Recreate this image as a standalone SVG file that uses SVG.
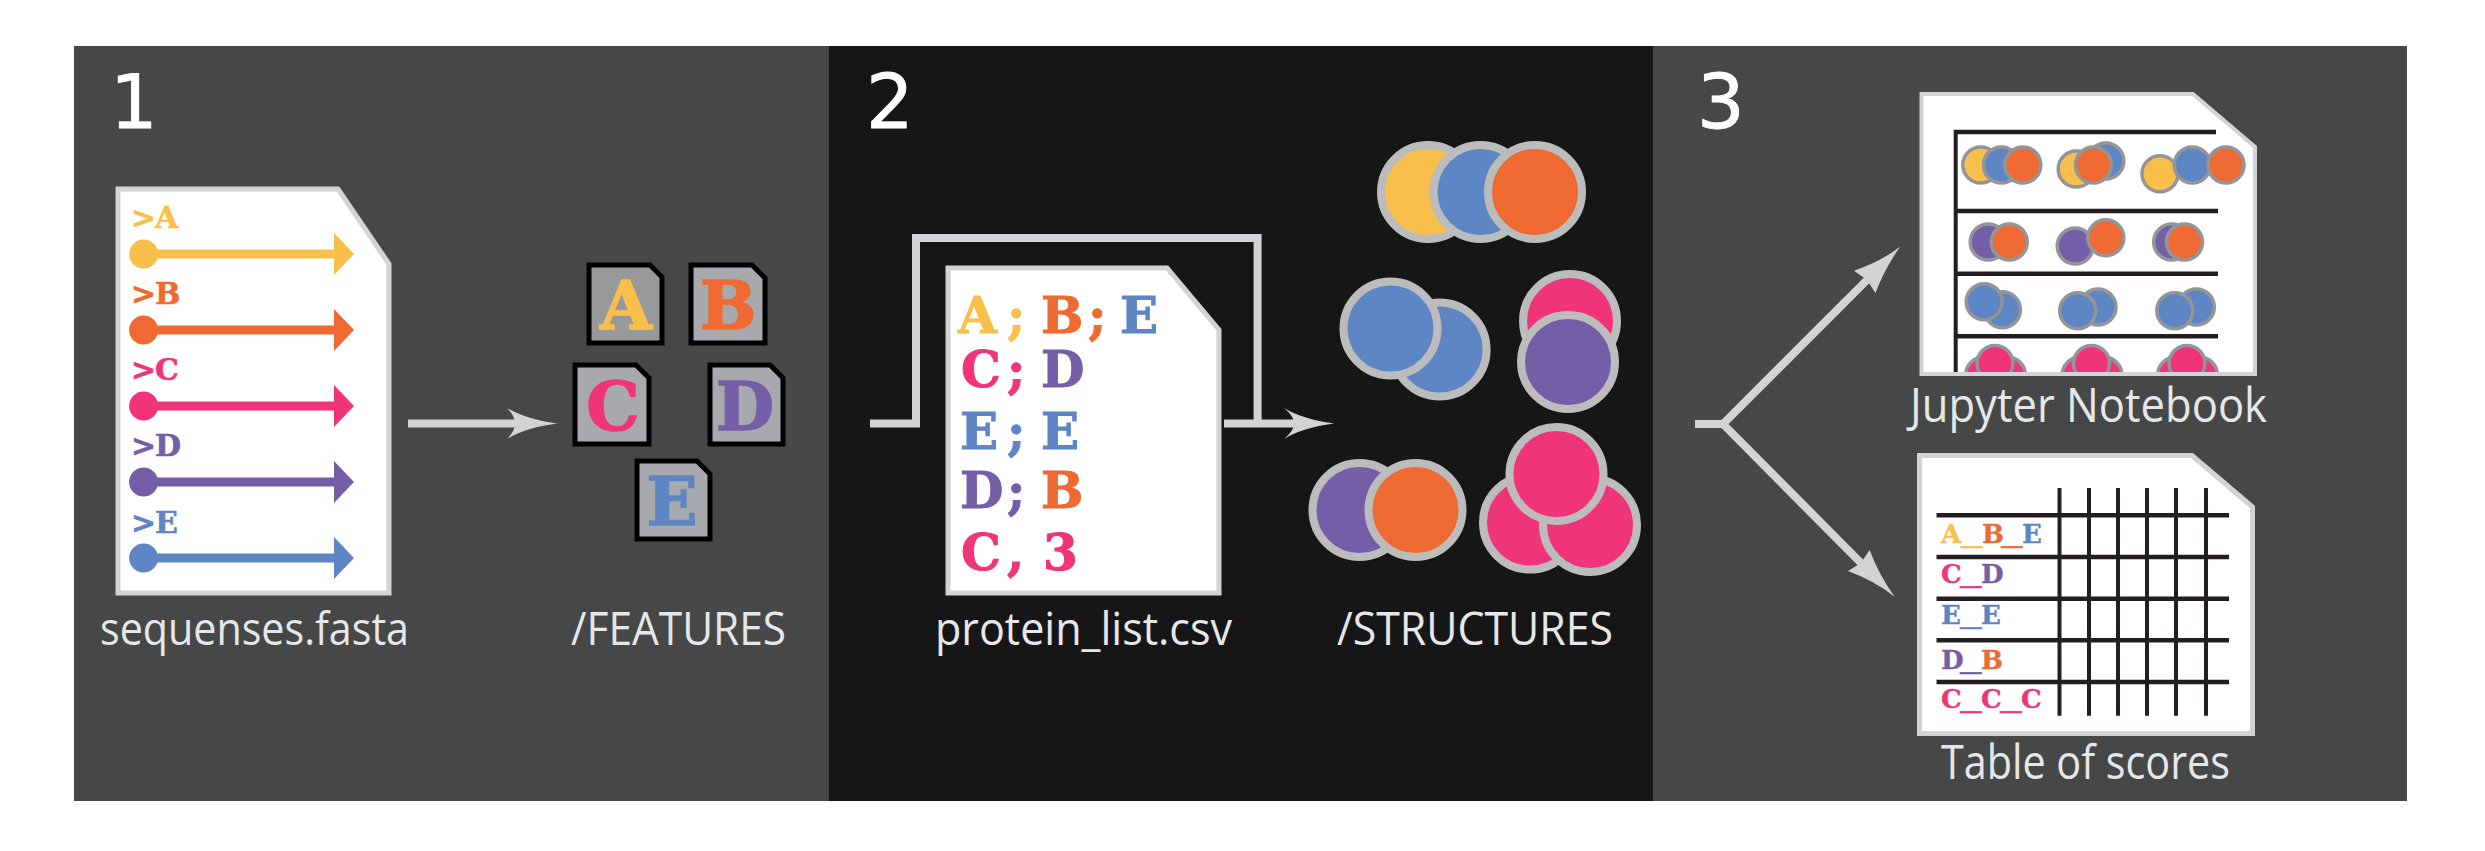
<svg xmlns="http://www.w3.org/2000/svg" width="2485" height="851" viewBox="0 0 2485 851">
<style>
.doc{fill:#fff;stroke:#d1d3d4;stroke-width:5}
.feat{fill:#a7a9ac;stroke:#000;stroke-width:5}
.lab{font-family:"Open Sans","Noto Sans",sans-serif;font-size:45px;fill:#e6e7e8}
.tall{font-size:48px}
.num{font-family:"DejaVu Sans",sans-serif;font-size:75px;fill:#fff;stroke:#fff;stroke-width:.8}
.mono{font-family:"DejaVu Serif",serif;font-weight:700}
.fa{font-size:30px;stroke-width:.6px}.fb{font-size:67px;text-anchor:middle;stroke-width:1.5px}.fc{font-size:50px;stroke-width:1px}.fd{font-size:26px;stroke-width:.4px}
.u{font-family:"Liberation Mono",monospace;font-size:36px;font-weight:400}
.y{fill:#f8c04a;stroke:#f8c04a}.o{fill:#ee6a32;stroke:#ee6a32}.p{fill:#ef3578;stroke:#ef3578}.v{fill:#745ea8;stroke:#745ea8}.b{fill:#5e85c4;stroke:#5e85c4}
.plain{stroke:none}
.big{stroke:#bcbcbc;stroke-width:8}
.sm{stroke:#939598;stroke-width:3.5}
.conn{fill:none;stroke:#d1d3d4;stroke-width:8}
.head{fill:#d1d3d4}
.rule{stroke:#231f20;fill:none}
</style>
<defs>
<clipPath id="nbclip"><rect x="1919" y="92" width="338" height="282"/></clipPath>
<g id="tri">
<circle class="p sm" cx="1983.700" cy="375" r="18"/><circle class="p sm" cx="2007.400" cy="375" r="18"/><circle class="p sm" cx="1995" cy="363.500" r="18"/>
</g>
</defs>
<rect width="2485" height="851" fill="#fff"/>
<g id="panel-1">
<rect x="74" y="46" width="755" height="755" fill="#464847"/>
<text class="num" x="110" y="128">1</text>
</g>
<g id="panel-2">
<rect x="829" y="46" width="824" height="755" fill="#161616"/>
<text class="num" x="866" y="128">2</text>
</g>
<g id="panel-3">
<rect x="1653" y="46" width="754" height="755" fill="#464847"/>
<text class="num" x="1697" y="128">3</text>
</g>
<g id="connectors">
<path class="conn" d="M408 423.600H520"/>
<path class="head" d="M557 423.600Q525 428 507 439Q515 431 515 423.600Q515 416 507 408Q525 419 557 423.600Z"/>
<path class="conn" d="M870 423.600H916V238H1257.600V423.600"/>
<path class="conn" d="M1224 423.600H1300"/>
<path class="head" d="M1334 423.600Q1302 428 1284 439Q1294 431 1294 423.600Q1294 416 1284 408Q1302 419 1334 423.600Z"/>
<path class="conn" d="M1695 424H1723L1867 280M1723 424L1861 563"/>
<path class="head" d="M1900 246.700Q1884 270 1875.500 293L1867 280L1854 270.700Q1880 262 1900 246.700Z"/>
<path class="head" d="M1894.600 596.700Q1879 575 1869.600 550L1861 563L1848 571Q1875 581 1894.600 596.700Z"/>
</g>
<g id="sequences-file">
<path class="doc" d="M118 189H338L389 264V593H118Z"/>
<text class="mono fa y" x="131 155" y="228">&gt;A</text>
<text class="mono fa o" x="131 155" y="304">&gt;B</text>
<text class="mono fa p" x="131 155" y="380">&gt;C</text>
<text class="mono fa v" x="131 155" y="456">&gt;D</text>
<text class="mono fa b" x="131 155" y="532.500">&gt;E</text>
<g class="y plain" style="stroke:none"><circle cx="143.600" cy="254" r="14.500"/><rect x="150" y="249.500" width="185" height="9"/><path d="M334 233L354 254L334 275Z"/></g>
<g class="o" style="stroke:none"><circle cx="143.600" cy="330" r="14.500"/><rect x="150" y="325.500" width="185" height="9"/><path d="M334 309L354 330L334 351Z"/></g>
<g class="p" style="stroke:none"><circle cx="143.600" cy="406" r="14.500"/><rect x="150" y="401.500" width="185" height="9"/><path d="M334 385L354 406L334 427Z"/></g>
<g class="v" style="stroke:none"><circle cx="143.600" cy="482" r="14.500"/><rect x="150" y="477.500" width="185" height="9"/><path d="M334 461L354 482L334 503Z"/></g>
<g class="b" style="stroke:none"><circle cx="143.600" cy="558" r="14.500"/><rect x="150" y="553.500" width="185" height="9"/><path d="M334 537L354 558L334 579Z"/></g>
<text class="lab" x="100" y="644.500" textLength="309" lengthAdjust="spacingAndGlyphs">sequenses.fasta</text>
</g>
<g id="features">
<path class="feat" d="M589 265H650L662 277V343H589Z" style="fill:#98999b"/>
<text class="mono fb y" x="626" y="328.500">A</text>
<path class="feat" d="M691 265H752L765 278V343H691Z"/>
<text class="mono fb o" x="728" y="328.500">B</text>
<path class="feat" d="M575 365H636L649 378V444H575Z"/>
<text class="mono fb p" x="613" y="429.500">C</text>
<path class="feat" d="M710 365H770L783 378V444H710Z"/>
<text class="mono fb v" x="745" y="429.500">D</text>
<path class="feat" d="M637 461H697L710 474V539H637Z"/>
<text class="mono fb b" x="672" y="525">E</text>
<text class="lab" x="571" y="644.500" textLength="215" lengthAdjust="spacingAndGlyphs">/FEATURES</text>
</g>
<g id="protein-list">
<path class="doc" d="M948 268H1167L1219 330V593H948Z"/>
<text class="mono fc" x="958 1007 1041 1088 1120" y="332.500"><tspan class="y">A;</tspan><tspan class="o">B;</tspan><tspan class="b">E</tspan></text>
<text class="mono fc" x="961 1007 1041" y="387"><tspan class="p">C;</tspan><tspan class="v">D</tspan></text>
<text class="mono fc b" x="960 1007 1041" y="449">E;E</text>
<text class="mono fc" x="960 1007 1041" y="508"><tspan class="v">D;</tspan><tspan class="o">B</tspan></text>
<text class="mono fc p" x="961 1007 1043" y="570">C,3</text>
<text class="lab" x="935" y="644.500" textLength="297" lengthAdjust="spacingAndGlyphs">protein_list.csv</text>
</g>
<g id="structures">
<circle class="y big" cx="1428" cy="192" r="47"/><circle class="b big" cx="1480.500" cy="192" r="47"/><circle class="o big" cx="1535" cy="192" r="47"/>
<circle class="b big" cx="1439.600" cy="349.500" r="47"/><circle class="b big" cx="1390.500" cy="328.500" r="47"/>
<circle class="p big" cx="1570" cy="321" r="47"/><circle class="v big" cx="1568" cy="362" r="47"/>
<circle class="v big" cx="1359.500" cy="510" r="47"/><circle class="o big" cx="1415.500" cy="510" r="47"/>
<circle class="p big" cx="1530" cy="522.600" r="47"/><circle class="p big" cx="1590" cy="525" r="47"/><circle class="p big" cx="1556.500" cy="474" r="47"/>
<text class="lab" x="1337" y="644.500" textLength="276" lengthAdjust="spacingAndGlyphs">/STRUCTURES</text>
</g>
<g id="jupyter-notebook">
<path d="M1921.500 94H2193L2255 147V374H1921.500Z" fill="#fff"/>
<path class="rule" stroke-width="4.500" d="M1954 132H2216M1956 211H2218M1956 273.700H2218M1956 336.300H2218"/>
<path class="rule" stroke-width="4" d="M1955.700 130V374"/>
<g clip-path="url(#nbclip)">
<circle class="y sm" cx="1980.800" cy="165" r="18"/><circle class="b sm" cx="2001.400" cy="165" r="18"/><circle class="o sm" cx="2022.800" cy="165" r="18"/>
<circle class="y sm" cx="2076.200" cy="169" r="18"/><circle class="b sm" cx="2105.800" cy="161" r="18"/><circle class="o sm" cx="2093.400" cy="165" r="18"/>
<circle class="y sm" cx="2160" cy="173.700" r="18"/><circle class="b sm" cx="2192.300" cy="165" r="18"/><circle class="o sm" cx="2226" cy="165" r="18"/>
<circle class="v sm" cx="1988.200" cy="242" r="18"/><circle class="o sm" cx="2009.300" cy="242" r="18"/>
<circle class="v sm" cx="2075.200" cy="246" r="18"/><circle class="o sm" cx="2105.800" cy="237.700" r="18"/>
<circle class="v sm" cx="2171.700" cy="242" r="18"/><circle class="o sm" cx="2184.500" cy="242" r="18"/>
<circle class="b sm" cx="2002.400" cy="309.700" r="18"/><circle class="b sm" cx="1984.200" cy="301.700" r="18"/>
<circle class="b sm" cx="2098" cy="307" r="18"/><circle class="b sm" cx="2077.700" cy="310.700" r="18"/>
<circle class="b sm" cx="2196.300" cy="307" r="18"/><circle class="b sm" cx="2174.800" cy="310.700" r="18"/>
<use href="#tri"/><use href="#tri" x="96.500"/><use href="#tri" x="192"/>
</g>
<path d="M1921.500 94H2193L2255 147V374H1921.500Z" fill="none" stroke="#d1d3d4" stroke-width="4"/>
<text class="lab tall" x="1910" y="422" textLength="357" lengthAdjust="spacingAndGlyphs">Jupyter Notebook</text>
</g>
<g id="table-of-scores">
<path class="doc" d="M1919.500 455.500H2192L2252.500 507V733.500H1919.500Z"/>
<path class="rule" stroke-width="4.500" d="M1936.500 515.300H2229M1936.500 557H2229M1936.500 598.700H2229M1936.500 640.300H2229M1936.500 682H2229"/>
<path class="rule" stroke-width="4" d="M2059.500 488V715.700M2089 488V715.700M2118 488V715.700M2147 488V715.700M2176 488V715.700M2206 488V715.700"/>
<text class="mono fd" x="1941 1961 1982 2001 2022" y="542.700"><tspan class="y">A<tspan class="u" dy="1">_</tspan></tspan><tspan class="o" dy="-1">B<tspan class="u" dy="1">_</tspan></tspan><tspan class="b" dy="-1">E</tspan></text>
<text class="mono fd" x="1941 1960 1981" y="582.700"><tspan class="p">C<tspan class="u" dy="1">_</tspan></tspan><tspan class="v" dy="-1">D</tspan></text>
<text class="mono fd b" x="1941 1960 1981" y="623.700">E<tspan class="u" dy="1">_</tspan><tspan dy="-1">E</tspan></text>
<text class="mono fd" x="1941 1960 1981" y="668.700"><tspan class="v">D<tspan class="u" dy="1">_</tspan></tspan><tspan class="o" dy="-1">B</tspan></text>
<text class="mono fd p" x="1941 1960 1981 2000 2021" y="708.300">C<tspan class="u" dy="1">_</tspan><tspan dy="-1">C</tspan><tspan class="u" dy="1">_</tspan><tspan dy="-1">C</tspan></text>
<text class="lab tall" x="1941" y="779" textLength="289" lengthAdjust="spacingAndGlyphs">Table of scores</text>
</g>
</svg>
